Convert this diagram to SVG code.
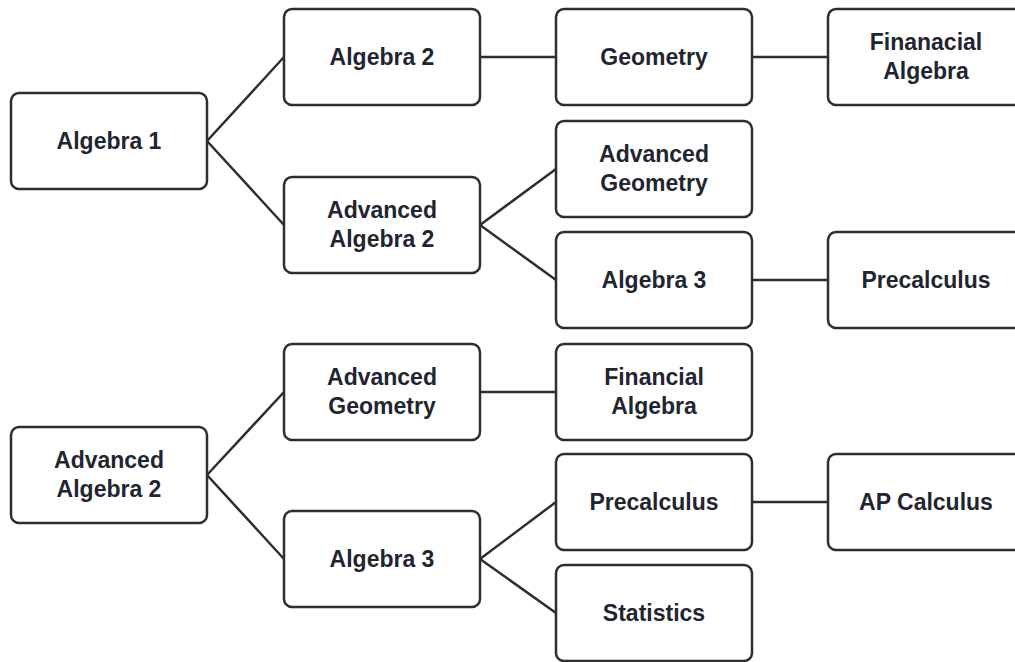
<svg xmlns="http://www.w3.org/2000/svg" width="1015" height="662" viewBox="0 0 1015 662">
<style>
.box{fill:#fff;stroke:#2e2e2e;stroke-width:2.5}
.t{font-family:"Liberation Sans",Arial,sans-serif;font-weight:bold;font-size:23px;fill:#1f2631;text-anchor:middle}
.c line{stroke:#2e2e2e;stroke-width:2.5}
</style>
<rect width="1015" height="662" fill="#fff"/>
<g class="c" id="connectors">
<line x1="207" y1="141" x2="284" y2="57"/>
<line x1="207" y1="141" x2="284" y2="225"/>
<line x1="480" y1="57" x2="556" y2="57"/>
<line x1="752" y1="57" x2="828" y2="57"/>
<line x1="480" y1="225" x2="556" y2="169"/>
<line x1="480" y1="225" x2="556" y2="280"/>
<line x1="752" y1="280" x2="828" y2="280"/>
<line x1="207" y1="475" x2="284" y2="392"/>
<line x1="207" y1="475" x2="284" y2="559"/>
<line x1="480" y1="392" x2="556" y2="392"/>
<line x1="480" y1="559" x2="556" y2="502"/>
<line x1="480" y1="559" x2="556" y2="613"/>
<line x1="752" y1="502" x2="828" y2="502"/>
</g>
<g id="algebra1"><rect class="box" x="11" y="93" width="196" height="96" rx="8"/><text class="t" x="109" y="149">Algebra 1</text></g>
<g id="algebra2"><rect class="box" x="284" y="9" width="196" height="96" rx="8"/><text class="t" x="382" y="65">Algebra 2</text></g>
<g id="geometry"><rect class="box" x="556" y="9" width="196" height="96" rx="8"/><text class="t" x="654" y="65">Geometry</text></g>
<g id="finanacial"><rect class="box" x="828" y="9" width="196" height="96" rx="8"/><text class="t" x="926" y="50">Finanacial</text><text class="t" x="926" y="79">Algebra</text></g>
<g id="advgeo1"><rect class="box" x="556" y="121" width="196" height="96" rx="8"/><text class="t" x="654" y="162">Advanced</text><text class="t" x="654" y="191">Geometry</text></g>
<g id="advalg2a"><rect class="box" x="284" y="177" width="196" height="96" rx="8"/><text class="t" x="382" y="218">Advanced</text><text class="t" x="382" y="247">Algebra 2</text></g>
<g id="algebra3a"><rect class="box" x="556" y="232" width="196" height="96" rx="8"/><text class="t" x="654" y="288">Algebra 3</text></g>
<g id="precalc1"><rect class="box" x="828" y="232" width="196" height="96" rx="8"/><text class="t" x="926" y="288">Precalculus</text></g>
<g id="advgeo2"><rect class="box" x="284" y="344" width="196" height="96" rx="8"/><text class="t" x="382" y="385">Advanced</text><text class="t" x="382" y="414">Geometry</text></g>
<g id="financial"><rect class="box" x="556" y="344" width="196" height="96" rx="8"/><text class="t" x="654" y="385">Financial</text><text class="t" x="654" y="414">Algebra</text></g>
<g id="advalg2b"><rect class="box" x="11" y="427" width="196" height="96" rx="8"/><text class="t" x="109" y="468">Advanced</text><text class="t" x="109" y="497">Algebra 2</text></g>
<g id="precalc2"><rect class="box" x="556" y="454" width="196" height="96" rx="8"/><text class="t" x="654" y="510">Precalculus</text></g>
<g id="apcalc"><rect class="box" x="828" y="454" width="196" height="96" rx="8"/><text class="t" x="926" y="510">AP Calculus</text></g>
<g id="algebra3b"><rect class="box" x="284" y="511" width="196" height="96" rx="8"/><text class="t" x="382" y="567">Algebra 3</text></g>
<g id="statistics"><rect class="box" x="556" y="565" width="196" height="96" rx="8"/><text class="t" x="654" y="621">Statistics</text></g>
</svg>
